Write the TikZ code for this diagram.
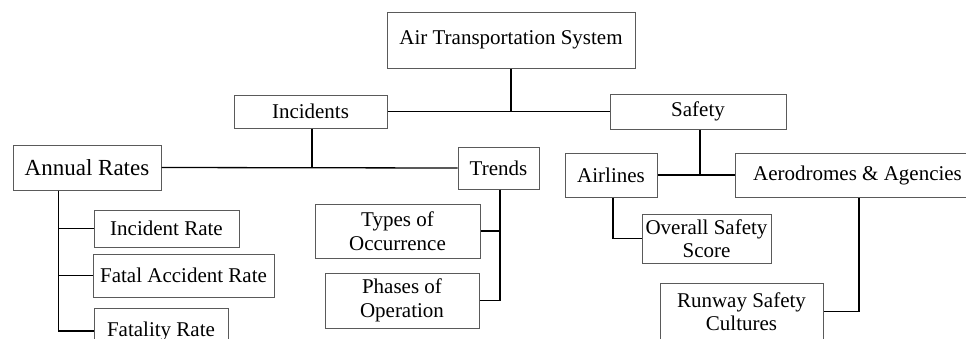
\documentclass[tikz,border=0pt]{standalone}
\usepackage{fontspec}
\setmainfont{Liberation Serif}
\usepackage{tikz}
\usetikzlibrary{calc}
\definecolor{rand}{HTML}{5A5A5A}

\begin{document}
\begin{tikzpicture}[x=1pt, y=-1pt, font=\fontsize{21}{23.5}\selectfont,
  box/.style={draw=rand, line width=1pt, fill=white, align=center, inner sep=2pt},
  lnk/.style={draw=black, line width=1.3pt}]
  \path[use as bounding box] (0,0) rectangle (966,338);
  \clip (0,0) rectangle (966,338);
  % top levels
  \node[box, minimum width=248pt, minimum height=56pt] (ats) at (511,40) {Air Transportation System};
  \node[box, minimum width=153pt, minimum height=33pt] (inc) at (310.5,111.5) {Incidents};
  \node[box, minimum width=176pt, minimum height=35pt] (saf) at (698,111.5) {Safety};
  \node[box, minimum width=148pt, minimum height=45pt, font=\fontsize{23}{26}\selectfont] (ann) at (87,167.5) {Annual Rates};
  \node[box, minimum width=81pt, minimum height=42pt] (tre) at (498.5,168) {Trends};
  \node[box, minimum width=92pt, minimum height=44pt] (air) at (611,175) {Airlines};
  \node[box, minimum width=245pt, minimum height=44pt] (aer) at (857.5,175) {Aerodromes \& Agencies};
  % leaves
  \node[box, minimum width=145pt, minimum height=37pt] (ir) at (166.5,228.5) {Incident Rate};
  \node[box, minimum width=181pt, minimum height=43pt] (far) at (183.5,275.5) {Fatal Accident Rate};
  \node[box, minimum width=134pt, minimum height=46pt] (fr) at (161,331) {Fatality Rate};
  \node[box, minimum width=165pt, minimum height=54pt] (too) at (397.5,231) {Types of\\Occurrence};
  \node[box, minimum width=154pt, minimum height=55pt] (poo) at (402,300.5) {Phases of\\Operation};
  \node[box, minimum width=129pt, minimum height=49pt] (oss) at (706.5,238.5) {Overall Safety\\Score};
  \node[box, minimum width=163pt, minimum height=57pt] (rsc) at (741.5,311.5) {Runway Safety\\Cultures};
  % links
  \draw[lnk] (inc.east) -- (saf.west);
  \draw[lnk] (ats.south) -- (ats.south |- inc.east);
  \draw[lnk] (ann.east) -- (tre.west);
  \draw[lnk] ([xshift=1.5pt]inc.south) -- ([xshift=1.5pt]inc.south |- ann.east);
  \draw[lnk] (air.east) -- (aer.west);
  \draw[lnk] ([xshift=2pt]saf.south) -- ([xshift=2pt]saf.south |- air.east);
  \draw[lnk] ([xshift=46pt]ann.south west) |- (ir.west);
  \draw[lnk] ([xshift=46pt]ann.south west) |- (far.west);
  \draw[lnk] ([xshift=46pt]ann.south west) |- (fr.west);
  \draw[lnk] ([xshift=1.5pt]tre.south) |- (too.east);
  \draw[lnk] ([xshift=1.5pt]tre.south) |- (poo.east);
  \draw[lnk] ([xshift=2pt]air.south) |- (oss.west);
  \draw[lnk] ([xshift=1.5pt]aer.south) |- (rsc.east);
\end{tikzpicture}
\end{document}
